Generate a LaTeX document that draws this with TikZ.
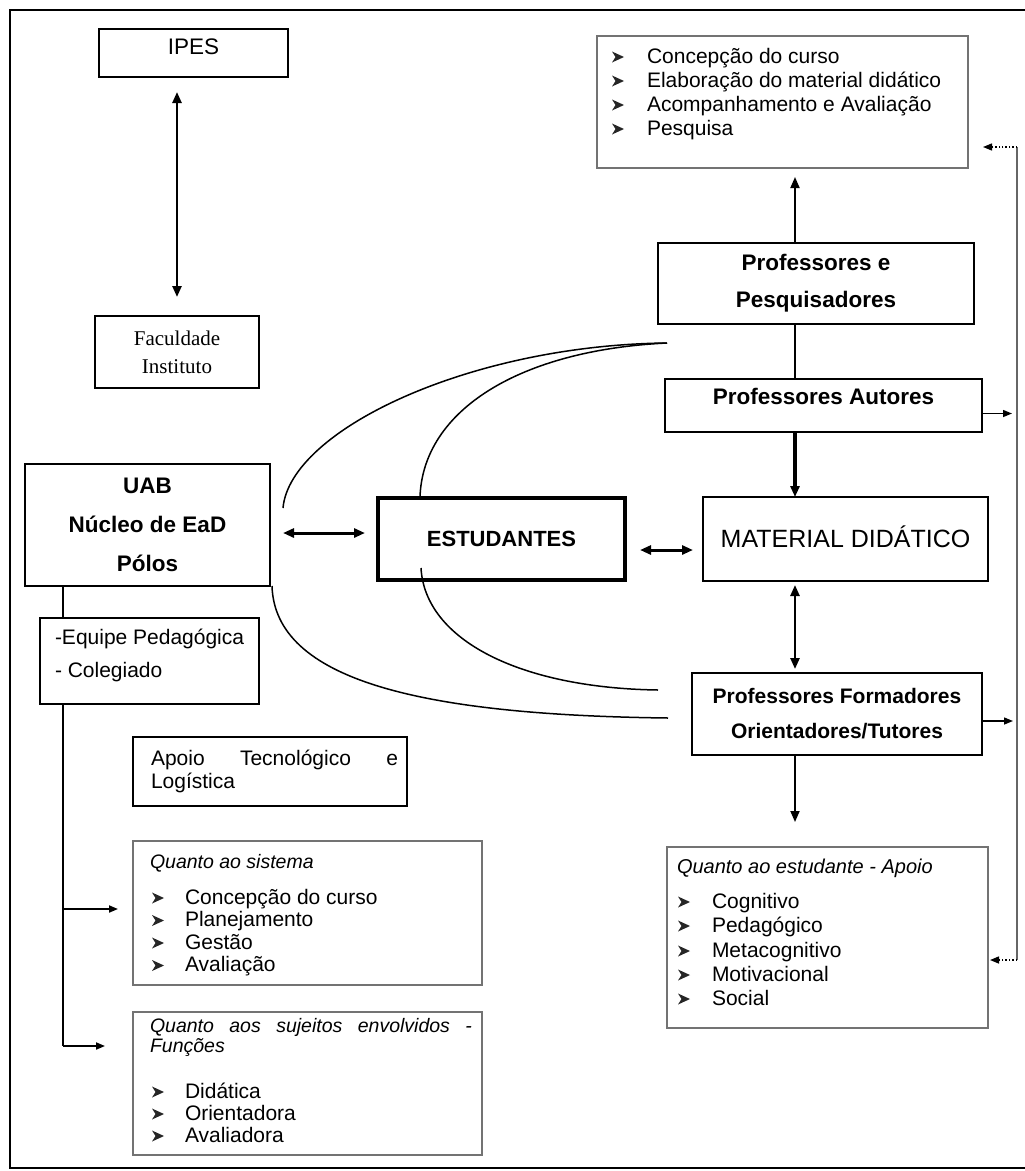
\documentclass[tikz,border=0pt]{standalone}
\usepackage{fontspec}
\setmainfont{Liberation Sans}
\newfontfamily\serifb{Liberation Serif}
\usetikzlibrary{arrows.meta,calc}
\newcommand\fsz[2]{\fontsize{#1}{#2}\selectfont}
% list item: name, glyph x, text x, baseline y, text
\newcommand\bitem[5]{%
  \fill[black!85] (#2,#4-11.5) -- (#2+12,#4-6) -- (#2,#4-0.5) -- (#2+3.5,#4-6) -- cycle;
  \node[lt,font=\fsz{21}{25}] (#1) at (#3,#4) {#5};}
\begin{document}
\begin{tikzpicture}[x=1pt,y=-1pt,
  bx/.style={draw=black, line width=1.7pt, inner sep=0pt, outer sep=0pt},
  gbx/.style={draw=black!55, line width=1.5pt, inner sep=0pt, outer sep=0pt},
  lt/.style={anchor=base west, inner sep=0pt, outer sep=0pt},
  tip/.style={-{Triangle[length=11pt,width=9pt]}},
  stip/.style={-{Triangle[length=9pt,width=7pt]}},
  dtip/.style={{Triangle[length=11pt,width=9pt]}-{Triangle[length=11pt,width=9pt]}},
  crv/.style={line width=1.5pt}
]
\useasboundingbox (0,0) rectangle (1025,1171);
\fill[white] (0,0) rectangle (1025,1171);
% outer frame
\draw[line width=1.8pt] (1032,10) -- (10,10) -- (10,1168) -- (1032,1168);

% ---------- left column ----------
\node[bx, minimum width=189pt, minimum height=48pt, font=\fsz{22.5}{27}, text depth=12pt] (ipes) at (193.5,53) {IPES};
\node[bx, minimum width=164pt, minimum height=72pt, font=\serifb\fsz{21}{28}, align=center] (fac) at (177,352) {Faculdade\\Instituto};
\node[bx, minimum width=245pt, minimum height=122pt, font=\bfseries\fsz{22.5}{39}, align=center] (uab) at (147.5,525) {UAB\\Núcleo de EaD\\Pólos};
\node[bx, minimum width=219pt, minimum height=86pt] (eq) at (149.5,661) {};
\node[lt, font=\fsz{21}{25}] (eq1) at (55,644) {-Equipe Pedagógica};
\node[lt, font=\fsz{21}{25}] (eq2) at (55,677) {- Colegiado};

\node[bx, minimum width=274pt, minimum height=69pt] (apoio) at (270,771.5) {};
\node[lt, font=\fsz{21}{25}] (ap1) at (151,765) {\hbox to 247pt{Apoio\hfil Tecnológico\hfil e}};
\node[lt, font=\fsz{21}{25}] (ap2) at (151,788) {Logística};

\node[gbx, minimum width=349pt, minimum height=144pt] (sys) at (307.5,913) {};
\node[lt, font=\itshape\fsz{19.5}{24}] (syst) at (150,868) {Quanto ao sistema};
\bitem{s1}{152}{185}{904}{Concepção do curso}
\bitem{s2}{152}{185}{926.5}{Planejamento}
\bitem{s3}{152}{185}{949}{Gestão}
\bitem{s4}{152}{185}{971.5}{Avaliação}

\node[gbx, minimum width=349pt, minimum height=143pt] (suj) at (307.5,1083.5) {};
\node[lt, font=\itshape\fsz{19.5}{24}] (sujt1) at (150,1032) {\hbox to 322pt{Quanto\hfil aos\hfil sujeitos\hfil envolvidos\hfil -}};
\node[lt, font=\itshape\fsz{19.5}{24}] (sujt2) at (150,1052) {Funções};
\bitem{u1}{152}{185}{1098}{Didática}
\bitem{u2}{152}{185}{1120}{Orientadora}
\bitem{u3}{152}{185}{1142}{Avaliadora}

% ---------- centre ----------
\node[draw=black, line width=4.5pt, inner sep=0pt, outer sep=0pt, minimum width=247pt, minimum height=82pt, font=\bfseries\fsz{22}{26}] (est) at (501.5,539) {ESTUDANTES};

% ---------- right column ----------
\node[gbx, minimum width=371pt, minimum height=132pt] (topr) at (782.5,102) {};
\bitem{r1}{612}{647}{63}{Concepção do curso}
\bitem{r2}{612}{647}{87}{Elaboração do material didático}
\bitem{r3}{612}{647}{111}{Acompanhamento e Avaliação}
\bitem{r4}{612}{647}{135}{Pesquisa}

\node[bx, minimum width=316pt, minimum height=81pt, font=\bfseries\fsz{22.5}{37}, align=center] (pep) at (816,283.5) {Professores e\\Pesquisadores};
\node[bx, minimum width=317pt, minimum height=53pt, font=\bfseries\fsz{22.5}{27}, text depth=18pt] (aut) at (823.5,405.5) {Professores Autores};
\node[bx, minimum width=285pt, minimum height=84pt, font=\fsz{25}{30}, text height=18pt] (mat) at (845.5,539) {MATERIAL DIDÁTICO};
\node[bx, minimum width=290pt, minimum height=82pt, font=\bfseries\fsz{21}{35}, align=center] (form) at (837,714) {Professores Formadores\\Orientadores/Tutores};

\node[gbx, minimum width=321pt, minimum height=181pt] (estb) at (827.5,937.5) {};
\node[lt, font=\itshape\fsz{20}{24}] (estbt) at (677,873) {Quanto ao estudante - Apoio};
\bitem{e1}{678}{712}{908}{Cognitivo}
\bitem{e2}{678}{712}{932}{Pedagógico}
\bitem{e3}{678}{712}{957}{Metacognitivo}
\bitem{e4}{678}{712}{981}{Motivacional}
\bitem{e5}{678}{712}{1005}{Social}

% ---------- connectors ----------
\draw[dtip, line width=2.4pt, shorten <=15pt, shorten >=19pt] (fac.north |- ipes.south) -- (fac.north);
\coordinate (lx) at (63,0);
\draw[line width=1.6pt] (lx |- uab.south) -- (lx |- eq.north);
\coordinate (ta) at (63,909);
\coordinate (tb) at (63,1046);
\draw[line width=1.8pt] (lx |- eq.south) -- (tb);
\draw[stip, line width=1.8pt, shorten >=15pt] (ta) -- (sys.west |- ta);
\draw[stip, line width=1.8pt, shorten >=28pt] (tb) -- (suj.west |- tb);

\draw[dtip, line width=3pt] ($(uab.east)+(13,8)$) -- ($(est.west |- uab.east)+(-13,8)$);
\draw[dtip, line width=3pt] ($(est.east)+(15,11)$) -- ($(mat.west |- est.east)+(-10,11)$);

\coordinate (vx) at (795,0);
\draw[tip, line width=1.8pt, shorten >=9pt] (vx |- pep.north) -- (vx |- topr.south);
\draw[line width=1.6pt] (vx |- pep.south) -- (vx |- aut.north);
\draw[tip, line width=3.2pt] (vx |- aut.south) -- (vx |- mat.north);
\draw[dtip, line width=2.4pt, shorten <=4pt, shorten >=4pt] (vx |- mat.south) -- (vx |- form.north);
\draw[tip, line width=1.8pt, shorten >=25pt] (vx |- form.south) -- (vx |- estb.north);

\coordinate (rt) at (1017,147);
\coordinate (rb) at (1017,960);
\draw[line width=1.6pt, black!60] (rt) -- (rb);
\draw[stip, dotted, line width=1.4pt, shorten >=15pt] (rt) -- (topr.east |- rt);
\draw[stip, dotted, line width=1.4pt, shorten >=2pt] (rb) -- (estb.east |- rb);
\draw[stip, line width=1.4pt] ($(aut.east)+(0,8)$) -- ($(rt |- aut.east)+(-5,8)$);
\draw[stip, line width=1.4pt] ($(form.east)+(0,7)$) -- ($(rt |- form.east)+(-4,7)$);

% curves
\coordinate (c1) at (283,508);
\coordinate (c2) at (420,497);
\coordinate (c3) at (272,586);
\coordinate (c4) at (421,568);
\coordinate (p1) at (667,343);
\coordinate (p2) at (668,718);
\coordinate (p3) at (658,690);
\draw[crv] (c1) .. controls (290,430) and (470,345) .. (p1);
\draw[crv] (c2) .. controls (423,410) and (520,350) .. (p1);
\draw[crv] (c3) .. controls (275,680) and (420,715) .. (p2);
\draw[crv] (c4) .. controls (425,640) and (520,688) .. (p3);
\end{tikzpicture}
\end{document}
